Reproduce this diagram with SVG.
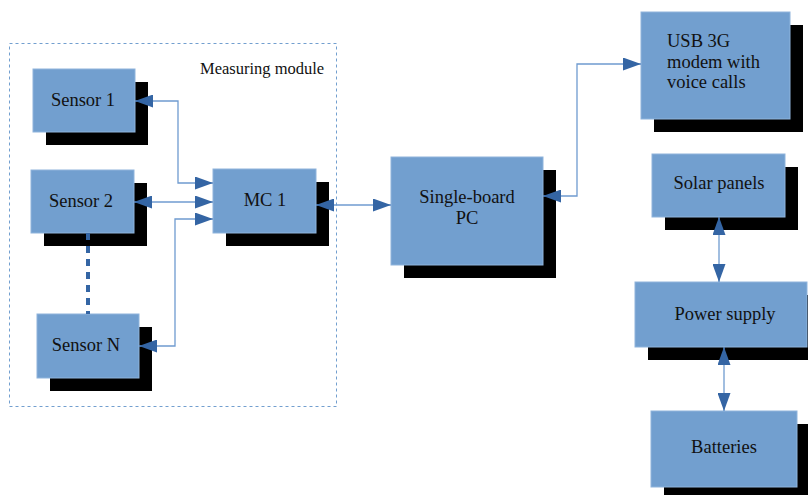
<svg xmlns="http://www.w3.org/2000/svg" width="808" height="495" viewBox="0 0 808 495">
<style>
.sh{fill:#000}
.bx{fill:#729fcf;stroke:#8fb4dc;stroke-width:1}
text{font-family:'Liberation Serif','DejaVu Serif',serif;font-size:18.5px;fill:#111}
.t{text-anchor:middle}
.l{text-anchor:start}
.c{fill:none;stroke:#6f9bd0;stroke-width:1.3}
</style>
<defs>
<marker id="a" viewBox="0 0 18 13" refX="18" refY="6.5" markerWidth="18" markerHeight="13" markerUnits="userSpaceOnUse" orient="auto-start-reverse">
<path d="M0,0 L18,6.5 L0,13 z" fill="#3465a4"/>
</marker>
</defs>
<rect x="9.5" y="43.5" width="327" height="363" fill="none" stroke="#729fcf" stroke-width="1" stroke-dasharray="3,3"/>
<text class="l" x="200" y="74" style="font-size:16.5px">Measuring module</text>
<g id="sensor1"><rect class="sh" x="46" y="82" width="102" height="63"/><rect class="bx" x="33" y="69" width="102" height="63"/><text class="t" x="83" y="106">Sensor 1</text></g>
<g id="sensor2"><rect class="sh" x="44" y="183" width="103" height="63"/><rect class="bx" x="31" y="170" width="103" height="63"/><text class="t" x="81" y="207">Sensor 2</text></g>
<g id="sensorN"><rect class="sh" x="50" y="327" width="102" height="64"/><rect class="bx" x="37" y="314" width="102" height="64"/><text class="t" x="86" y="351">Sensor N</text></g>
<g id="mc1"><rect class="sh" x="226" y="182" width="103" height="64"/><rect class="bx" x="213" y="169" width="103" height="64"/><text class="t" x="265" y="206">MC 1</text></g>
<g id="pc"><rect class="sh" x="404" y="170" width="152" height="108"/><rect class="bx" x="391" y="157" width="152" height="108"/><text class="t" x="467" y="203">Single-board</text><text class="t" x="467" y="224">PC</text></g>
<g id="usb"><rect class="sh" x="654" y="25" width="149" height="107"/><rect class="bx" x="641" y="12" width="149" height="107"/><text class="l" x="667" y="47">USB 3G</text><text class="l" x="667" y="68">modem with</text><text class="l" x="667" y="88">voice calls</text></g>
<g id="solar"><rect class="sh" x="665" y="167" width="133" height="63"/><rect class="bx" x="652" y="154" width="133" height="63"/><text class="t" x="719" y="189">Solar panels</text></g>
<g id="power"><rect class="sh" x="648" y="295" width="172" height="65"/><rect class="bx" x="635" y="282" width="172" height="65"/><text class="t" x="725" y="320">Power supply</text></g>
<g id="batteries"><rect class="sh" x="664" y="424" width="146" height="76"/><rect class="bx" x="651" y="411" width="146" height="76"/><text class="t" x="724" y="453">Batteries</text></g>
<g id="connectors">
<path class="c" d="M135,101 H178 V183 H213" marker-start="url(#a)" marker-end="url(#a)"/>
<path class="c" d="M134,202 H213" marker-start="url(#a)" marker-end="url(#a)"/>
<path class="c" d="M139,346 H175 V219 H213" marker-start="url(#a)" marker-end="url(#a)"/>
<path d="M88,233 V314" stroke="#3465a4" stroke-width="4" stroke-dasharray="7,6" fill="none"/>
<path class="c" d="M316,205 H391" marker-start="url(#a)" marker-end="url(#a)"/>
<path class="c" d="M543,196 H577 V64 H641" marker-start="url(#a)" marker-end="url(#a)"/>
<path class="c" d="M719,217 V282" marker-start="url(#a)" marker-end="url(#a)"/>
<path class="c" d="M724,347 V411" marker-start="url(#a)" marker-end="url(#a)"/>
</g>
</svg>
